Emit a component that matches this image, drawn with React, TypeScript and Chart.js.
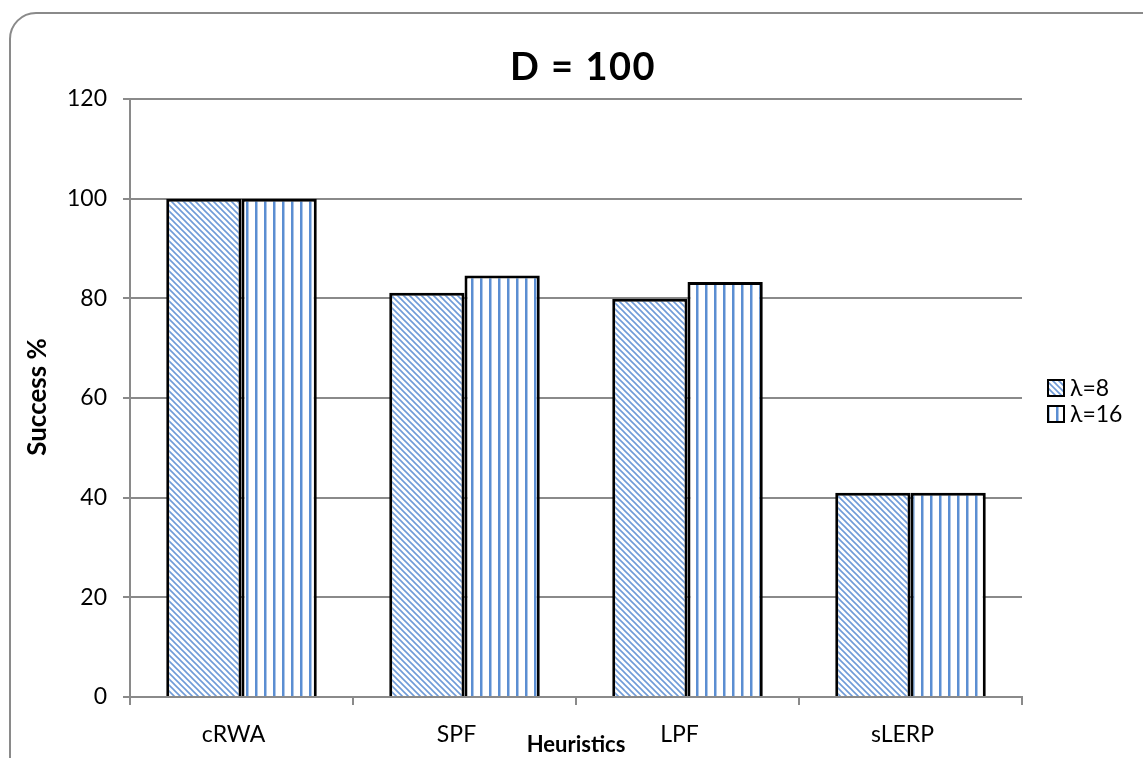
import React, { useEffect, useRef } from "react";
import { Chart, registerables } from "chart.js";

Chart.register(...registerables);

const categories = ["cRWA", "SPF", "LPF", "sLERP"];
const lambda8 = [100, 81.1, 79.9, 41];
const lambda16 = [100, 84.6, 83.3, 41];
const seriesLabels = ["λ=8", "λ=16"];
const yMin = 0;
const yMax = 120;
const yStep = 20;
const chartTitle = "D = 100";
const xTitle = "Heuristics";
const yTitle = "Success %";

const FONT = "Lato, 'Open Sans', sans-serif";

function makeDiagonal(): CanvasPattern | string {
  const c = document.createElement("canvas");
  c.width = 6;
  c.height = 6;
  const g = c.getContext("2d");
  if (!g) return "#7ea6de";
  g.fillStyle = "#ffffff";
  g.fillRect(0, 0, 6, 6);
  g.strokeStyle = "#6f9bd8";
  g.lineWidth = 1.6;
  g.beginPath();
  g.moveTo(-3, -3);
  g.lineTo(9, 9);
  g.moveTo(-3, 3);
  g.lineTo(3, 9);
  g.moveTo(3, -3);
  g.lineTo(9, 3);
  g.stroke();
  return g.createPattern(c, "repeat") as CanvasPattern;
}

function makeVertical(): CanvasPattern | string {
  const c = document.createElement("canvas");
  c.width = 9;
  c.height = 4;
  const g = c.getContext("2d");
  if (!g) return "#5b8bd0";
  g.fillStyle = "#ffffff";
  g.fillRect(0, 0, 9, 4);
  g.fillStyle = "#5b8ed2";
  g.fillRect(3, 0, 2.5, 4);
  return g.createPattern(c, "repeat") as CanvasPattern;
}

export default function App() {
  const ref = useRef<HTMLCanvasElement | null>(null);

  useEffect(() => {
    const canvas = ref.current;
    if (!canvas) return;
    const p8 = makeDiagonal();
    const p16 = makeVertical();
    const fills = [p8, p16];

    const framePlugin = {
      id: "frame",
      beforeDraw(chart: any) {
        const ctx = chart.ctx;
        ctx.save();
        ctx.fillStyle = "#ffffff";
        ctx.fillRect(0, 0, chart.width, chart.height);
        const x = 10, y = 13, w = 1200, h = 800, r = 26;
        ctx.strokeStyle = "#8a8a8a";
        ctx.lineWidth = 2;
        ctx.beginPath();
        ctx.moveTo(x + r, y);
        ctx.lineTo(x + w, y);
        ctx.moveTo(x, y + h);
        ctx.lineTo(x, y + r);
        ctx.arcTo(x, y, x + r, y, r);
        ctx.stroke();
        ctx.restore();
      },
    };

    const textPlugin = {
      id: "texts",
      afterDraw(chart: any) {
        const ctx = chart.ctx;
        ctx.save();
        ctx.fillStyle = "#000000";
        ctx.textAlign = "center";
        ctx.textBaseline = "middle";
        ctx.font = `bold 38px ${FONT}`;
        try { (ctx as any).letterSpacing = "1.5px"; } catch (e) {}
        ctx.fillText(chartTitle, 583, 68);
        try { (ctx as any).letterSpacing = "0px"; } catch (e) {}
        ctx.font = `bold 22px ${FONT}`;
        ctx.fillText(xTitle, 576, 745);
        ctx.save();
        ctx.translate(38, 397);
        ctx.rotate(-Math.PI / 2);
        ctx.font = `bold 26px ${FONT}`;
        ctx.fillText(yTitle, 0, 0);
        ctx.restore();
        // legend
        const lx = 1048;
        const ys = [388, 414];
        ctx.textAlign = "left";
        ctx.font = `23px ${FONT}`;
        seriesLabels.forEach((lab, i) => {
          const by = ys[i] - 8;
          ctx.fillStyle = fills[i] as any;
          ctx.fillRect(lx, by, 16, 16);
          ctx.strokeStyle = "#000000";
          ctx.lineWidth = 2;
          ctx.strokeRect(lx, by, 16, 16);
          ctx.fillStyle = "#000000";
          ctx.fillText(lab, lx + 22, ys[i] + 1);
        });
        ctx.restore();
      },
    };

    const chart = new Chart(canvas, {
      type: "bar",
      data: {
        labels: categories,
        datasets: [
          {
            label: seriesLabels[0],
            data: lambda8,
            backgroundColor: p8 as any,
            borderColor: "#000000",
            borderWidth: 3,
            borderSkipped: "start",
          },
          {
            label: seriesLabels[1],
            data: lambda16,
            backgroundColor: p16 as any,
            borderColor: "#000000",
            borderWidth: 3,
            borderSkipped: "start",
          },
        ],
      },
      options: {
        responsive: false,
        animation: false,
        devicePixelRatio: 1,
        layout: { padding: { left: 0, right: 121, top: 99, bottom: 0 } },
        datasets: { bar: { categoryPercentage: 0.675, barPercentage: 1 } } as any,
        plugins: {
          legend: { display: false },
          title: { display: false },
          tooltip: { enabled: false },
        },
        scales: {
          x: {
            offset: true,
            grid: {
              display: true,
              offset: true,
              drawOnChartArea: false,
              drawTicks: true,
              tickLength: 8,
              color: "#8a8a8a",
              lineWidth: 2,
            },
            border: { display: true, color: "#8a8a8a", width: 2 },
            ticks: {
              color: "#000000",
              font: { family: FONT, size: 23 },
              padding: 16,
              labelOffset: -8,
              maxRotation: 0,
            },
            afterFit(scale: any) {
              scale.height = 61;
            },
          },
          y: {
            min: yMin,
            max: yMax,
            grid: {
              color: "#8a8a8a",
              lineWidth: 2,
              tickLength: 7,
              drawTicks: true,
            },
            border: { display: true, color: "#8a8a8a", width: 2 },
            ticks: {
              stepSize: yStep,
              color: "#000000",
              font: { family: FONT, size: 23 },
              padding: 16,
            },
            afterFit(scale: any) {
              scale.width = 130;
            },
          },
        },
      },
      plugins: [framePlugin, textPlugin],
    });
    return () => chart.destroy();
  }, []);

  return (
    <div style={{ position: "fixed", left: 0, top: 0, width: 1143, height: 758 }}>
      <canvas ref={ref} width={1143} height={758} style={{ display: "block", width: 1143, height: 758 }} />
    </div>
  );
}
